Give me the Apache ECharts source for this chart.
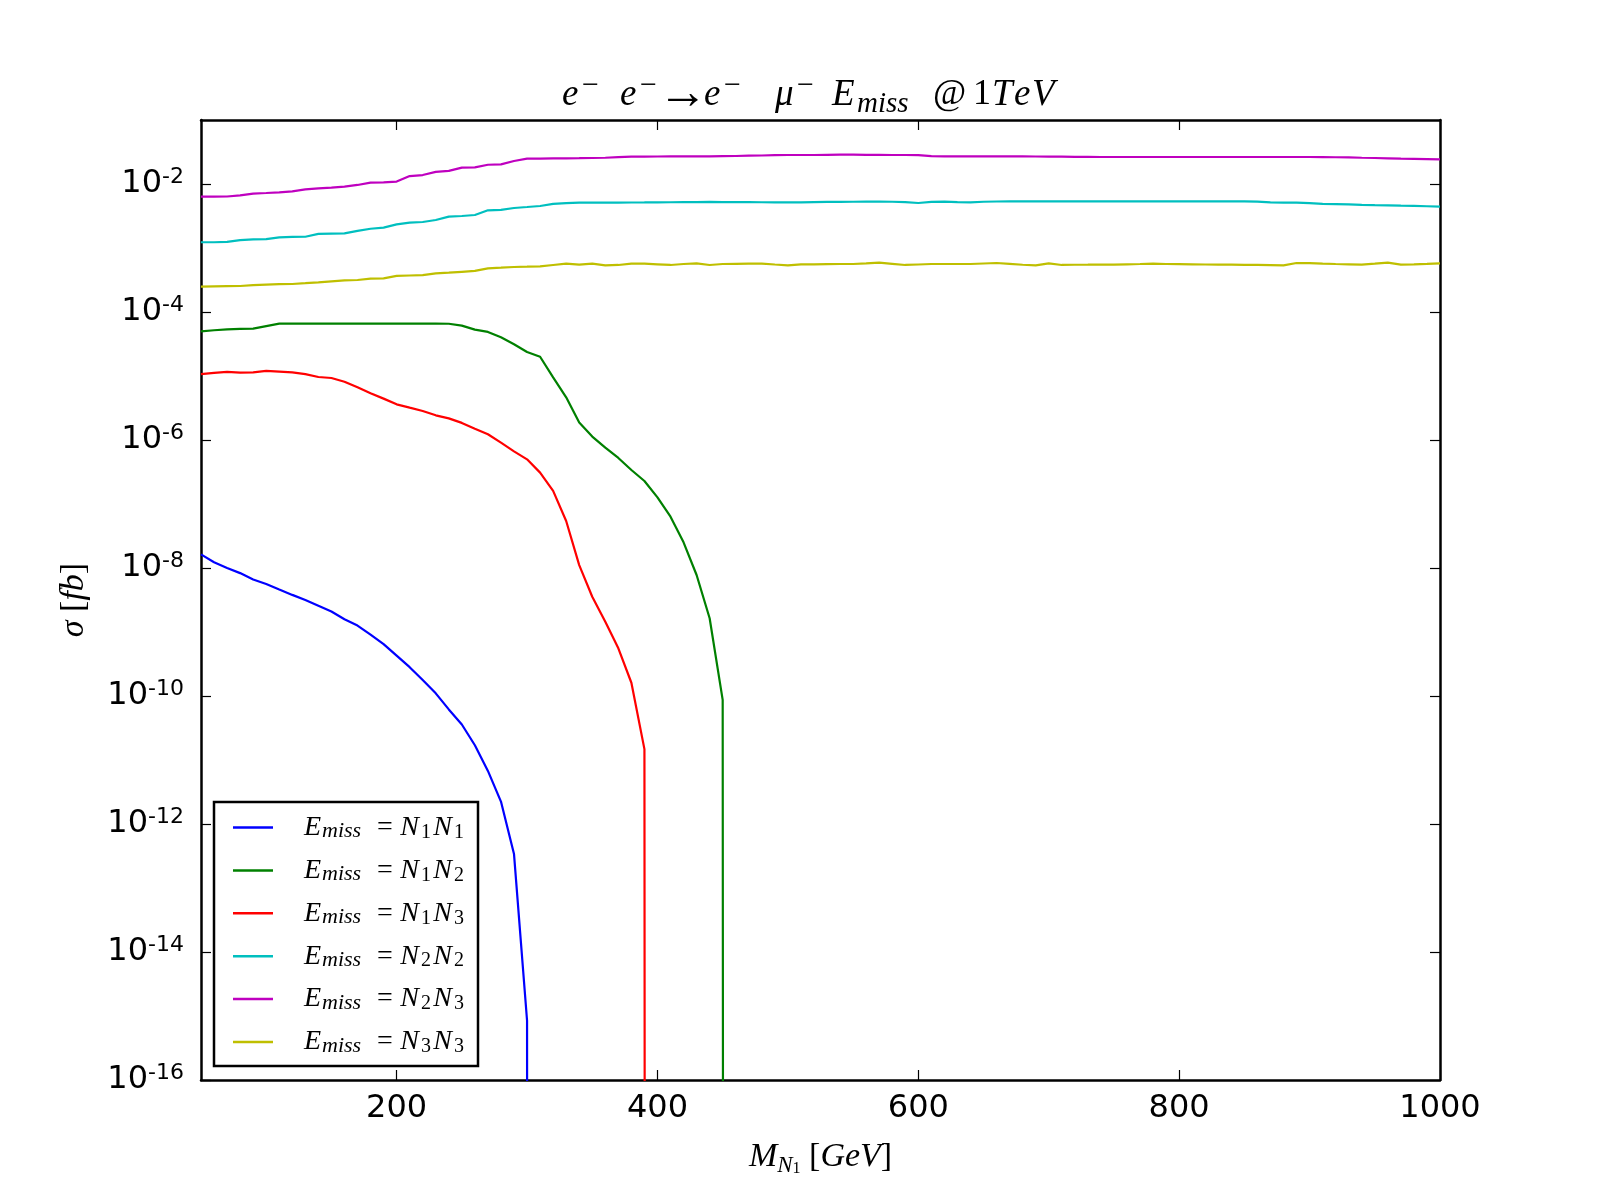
<!DOCTYPE html>
<html>
<head>
<meta charset="utf-8">
<script src="https://cdn.jsdelivr.net/npm/echarts@6/dist/echarts.min.js"></script>
<style>html,body{margin:0;padding:0;background:#fff}#c{width:1600px;height:1200px}</style>
</head>
<body>
<div id="c"></div>
<script>
// ---- data ----
const massGeV = [50,60,70,80,90,100,110,120,130,140,150,160,170,180,190,200,210,220,230,240,250,260,270,280,290,300,310,320,330,340,350,360,370,380,390,400,410,420,430,440,450,460,470,480,490,500,510,520,530,540,550,560,570,580,590,600,610,620,630,640,650,660,670,680,690,700,710,720,730,740,750,760,770,780,790,800,810,820,830,840,850,860,870,880,890,900,910,920,930,940,950,960,970,980,990,1000];
const xTicks = [200,400,600,800,1000];
const yTicks = [1e-16,1e-14,1e-12,1e-10,1e-8,1e-6,1e-4,1e-2];

// cross sections in fb; 1e-300 stands for the value that underflows (0 in the original)
const sigmaN1N1 = [1.63e-8,1.23e-8,1.00e-8,8.32e-9,6.61e-9,5.62e-9,4.62e-9,3.80e-9,3.16e-9,2.57e-9,
  2.09e-9,1.58e-9,1.26e-9,9.12e-10,6.46e-10,4.27e-10,2.82e-10,1.78e-10,1.10e-10,6.17e-11,
  3.59e-11,1.70e-11,6.76e-12,2.24e-12,3.39e-13,8.51e-16,1e-300];
const sigmaN1N2 = [4.99e-5,5.19e-5,5.36e-5,5.43e-5,5.50e-5,6.03e-5,6.58e-5,
  6.58e-5,6.58e-5,6.58e-5,6.58e-5,6.58e-5,6.58e-5,6.58e-5,6.58e-5,6.58e-5,6.58e-5,6.58e-5,6.58e-5,6.55e-5,
  6.12e-5,5.30e-5,4.88e-5,4.02e-5,3.13e-5,2.37e-5,2.00e-5,9.53e-6,4.65e-6,1.87e-6,
  1.13e-6,7.59e-7,5.24e-7,3.40e-7,2.29e-7,1.27e-7,6.34e-8,2.52e-8,7.78e-9,1.64e-9,
  8.71e-11,1e-300];
const sigmaN1N3 = [1.07e-5,1.12e-5,1.16e-5,1.13e-5,1.14e-5,1.20e-5,1.17e-5,1.14e-5,1.07e-5,9.64e-6,
  9.31e-6,8.15e-6,6.65e-6,5.36e-6,4.43e-6,3.61e-6,3.20e-6,2.84e-6,2.43e-6,2.18e-6,
  1.85e-6,1.50e-6,1.23e-6,9.08e-7,6.65e-7,4.99e-7,3.09e-7,1.60e-7,5.42e-8,1.11e-8,
  3.56e-9,1.45e-9,5.56e-10,1.61e-10,1.48e-11,1e-300];
const sigmaN2N2 = [1.23e-3,1.23e-3,1.25e-3,1.33e-3,1.36e-3,1.38e-3,1.47e-3,1.49e-3,1.50e-3,1.66e-3,
  1.68e-3,1.69e-3,1.85e-3,2.00e-3,2.08e-3,2.34e-3,2.49e-3,2.55e-3,2.74e-3,3.09e-3,
  3.16e-3,3.28e-3,3.88e-3,3.93e-3,4.22e-3,4.37e-3,4.53e-3,4.88e-3,5.01e-3,5.10e-3,
  5.12e-3,5.13e-3,5.13e-3,5.14e-3,5.15e-3,5.17e-3,5.19e-3,5.21e-3,5.22e-3,5.24e-3,
  5.22e-3,5.21e-3,5.20e-3,5.19e-3,5.18e-3,5.18e-3,5.15e-3,5.20e-3,5.25e-3,5.27e-3,
  5.28e-3,5.30e-3,5.30e-3,5.28e-3,5.20e-3,5.05e-3,5.25e-3,5.30e-3,5.22e-3,5.18e-3,
  5.28e-3,5.33e-3,5.36e-3,5.36e-3,5.36e-3,5.36e-3,5.36e-3,5.36e-3,5.36e-3,5.36e-3,
  5.36e-3,5.36e-3,5.36e-3,5.36e-3,5.36e-3,5.36e-3,5.36e-3,5.36e-3,5.36e-3,5.36e-3,
  5.36e-3,5.30e-3,5.18e-3,5.13e-3,5.11e-3,5.01e-3,
  4.88e-3,4.84e-3,4.79e-3,4.73e-3,4.68e-3,4.65e-3,4.59e-3,4.55e-3,4.49e-3,4.43e-3];
const sigmaN2N3 = [6.34e-3,6.34e-3,6.38e-3,6.65e-3,7.08e-3,7.24e-3,7.41e-3,7.69e-3,8.26e-3,8.57e-3,
  8.77e-3,9.10e-3,9.66e-3,1.05e-2,1.06e-2,1.09e-2,1.33e-2,1.38e-2,1.55e-2,1.60e-2,
  1.80e-2,1.82e-2,2.00e-2,2.03e-2,2.29e-2,2.49e-2,2.50e-2,2.51e-2,2.52e-2,2.53e-2,
  2.55e-2,2.57e-2,2.63e-2,2.67e-2,2.68e-2,2.69e-2,2.70e-2,2.70e-2,2.70e-2,2.70e-2,
  2.72e-2,2.74e-2,2.77e-2,2.79e-2,2.82e-2,2.84e-2,2.84e-2,2.84e-2,2.86e-2,2.87e-2,
  2.88e-2,2.86e-2,2.85e-2,2.84e-2,2.84e-2,2.83e-2,2.72e-2,2.71e-2,2.71e-2,2.71e-2,
  2.71e-2,2.71e-2,2.71e-2,2.70e-2,2.69e-2,2.68e-2,2.67e-2,2.66e-2,2.65e-2,2.64e-2,
  2.64e-2,2.64e-2,2.64e-2,2.64e-2,2.64e-2,2.64e-2,2.64e-2,2.64e-2,2.64e-2,2.64e-2,
  2.64e-2,2.64e-2,2.64e-2,2.64e-2,2.64e-2,2.64e-2,
  2.63e-2,2.62e-2,2.60e-2,2.57e-2,2.55e-2,2.52e-2,2.49e-2,2.47e-2,2.45e-2,2.43e-2];
const sigmaN3N3 = [2.49e-4,2.51e-4,2.53e-4,2.55e-4,2.63e-4,2.68e-4,2.72e-4,2.74e-4,2.82e-4,2.91e-4,
  3.02e-4,3.11e-4,3.16e-4,3.32e-4,3.36e-4,3.66e-4,3.72e-4,3.78e-4,4.02e-4,4.12e-4,
  4.25e-4,4.38e-4,4.81e-4,4.92e-4,5.05e-4,5.11e-4,5.18e-4,5.43e-4,5.69e-4,5.50e-4,
  5.69e-4,5.36e-4,5.43e-4,5.69e-4,5.69e-4,5.56e-4,5.43e-4,5.62e-4,5.75e-4,5.43e-4,
  5.62e-4,5.65e-4,5.68e-4,5.69e-4,5.52e-4,5.36e-4,5.56e-4,5.56e-4,5.60e-4,5.62e-4,
  5.62e-4,5.75e-4,5.90e-4,5.66e-4,5.43e-4,5.52e-4,5.62e-4,5.62e-4,5.62e-4,5.62e-4,
  5.73e-4,5.83e-4,5.65e-4,5.47e-4,5.36e-4,5.75e-4,5.43e-4,5.47e-4,5.48e-4,5.50e-4,
  5.50e-4,5.56e-4,5.62e-4,5.69e-4,5.62e-4,5.60e-4,5.56e-4,5.52e-4,5.50e-4,5.48e-4,
  5.45e-4,5.43e-4,5.40e-4,5.36e-4,5.83e-4,5.81e-4,5.70e-4,5.62e-4,5.56e-4,5.50e-4,
  5.69e-4,5.90e-4,5.50e-4,5.56e-4,5.65e-4,5.75e-4];

const seriesNames = ['N1N1','N1N2','N1N3','N2N2','N2N3','N3N3'];
const seriesValues = [sigmaN1N1,sigmaN1N2,sigmaN1N3,sigmaN2N2,sigmaN2N3,sigmaN3N3];
const seriesColors = ['#0000ff','#008000','#ff0000','#00bfbf','#bf00bf','#bfbf00'];

// ---- chart ----
const chart = echarts.init(document.getElementById('c'), null, {renderer:'canvas'});
const serif = 'Liberation Serif';
const sans = 'DejaVu Sans';

function pairs(vals){ const out=[]; for(let i=0;i<vals.length;i++) out.push([massGeV[i], vals[i]]); return out; }

const axisLineStyle = {show:true, onZero:false, lineStyle:{color:'#000', width:2.5}};
const xTickStyle = {show:true, inside:true, length:10, lineStyle:{color:'#000', width:1.2}, customValues:xTicks};
const yTickStyle = {show:true, inside:true, length:10, lineStyle:{color:'#000', width:1.2}, customValues:yTicks};

function supStyle(w){ return {fontFamily:serif, fontSize:30, lineHeight:28, verticalAlign:'top', width:w}; }
function itStyle(w){ const s = {fontFamily:serif, fontStyle:'italic', fontSize:37, lineHeight:48, verticalAlign:'middle'}; if (w) s.width = w; return s; }
function upStyle(w){ const s = {fontFamily:serif, fontSize:36, lineHeight:48, verticalAlign:'middle'}; if (w) s.width = w; return s; }

const option = {
  backgroundColor:'#fff',
  animation:false,
  title:{
    text:'{e|e}{s1|−}{e|e}{s2|−}{ar|→}{e|e}{s3|−}{mu|μ}{s4|−}{E|E}{sb|miss}{at|@}{one|1}{T|T}{te|e}{i|V}',
    left:557, top:66, textAlign:'left',
    textStyle:{
      fontFamily:serif, fontSize:36, fontWeight:'normal', color:'#000',
      rich:{
        e:itStyle(20), mu:itStyle(22), E:itStyle(25), T:itStyle(22), te:itStyle(18), i:itStyle(0),
        ar:{fontFamily:serif, fontSize:50, lineHeight:48, verticalAlign:'middle', width:46},
        at:upStyle(40), one:upStyle(19),
        s1:supStyle(38), s2:supStyle(18), s3:supStyle(51), s4:supStyle(35),
        sb:{fontFamily:serif, fontStyle:'italic', fontSize:29, lineHeight:33, verticalAlign:'bottom', width:76}
      }
    }
  },
  grid:{left:201, top:120, width:1239, height:960, containLabel:false, show:false},
  legend:{
    orient:'vertical', left:214, top:802,
    icon:'rect', itemWidth:40, itemHeight:2.5, itemGap:13.9,
    padding:[11.5,14,9,19],
    borderColor:'#000', borderWidth:2.5, backgroundColor:'#fff',
    formatter:function(name){
      return '{E|E}{ms|miss}{eq|=}{N|N}{d|'+name[1]+'}{N|N}{d|'+name[3]+'}';
    },
    textStyle:{
      padding:[0,0,0,26], color:'#000',
      rich:{
        E:{fontFamily:serif, fontStyle:'italic', fontSize:28, lineHeight:30, verticalAlign:'middle', width:18},
        ms:{fontFamily:serif, fontStyle:'italic', fontSize:22, lineHeight:16, verticalAlign:'bottom', width:50},
        eq:{fontFamily:serif, fontSize:28, lineHeight:30, verticalAlign:'middle', width:26, align:'center'},
        N:{fontFamily:serif, fontStyle:'italic', fontSize:28, lineHeight:30, verticalAlign:'middle', width:23},
        d:{fontFamily:serif, fontSize:20, lineHeight:16, verticalAlign:'bottom', width:10}
      }
    }
  },
  xAxis:[
    {type:'value', min:50, max:1000, position:'bottom',
     axisLine:axisLineStyle, axisTick:xTickStyle, minorTick:{show:false}, splitLine:{show:false},
     axisLabel:{customValues:xTicks, fontFamily:sans, fontSize:32, color:'#000', margin:13,
       formatter:function(v){ return String(v); }},
     name:'{i|M}{sb|N}{ss|1}{n| [}{i|GeV}{n|]}', nameLocation:'middle', nameGap:57,
     nameTextStyle:{color:'#000', rich:{
        i:{fontFamily:serif, fontStyle:'italic', fontSize:34, lineHeight:40, verticalAlign:'middle'},
        n:{fontFamily:serif, fontSize:34, lineHeight:40, verticalAlign:'middle'},
        sb:{fontFamily:serif, fontStyle:'italic', fontSize:23, lineHeight:30, verticalAlign:'bottom'},
        ss:{fontFamily:serif, fontSize:16, lineHeight:16, verticalAlign:'bottom'}
     }}
    },
    {type:'value', min:50, max:1000, position:'top',
     axisLine:axisLineStyle, axisTick:xTickStyle, axisLabel:{show:false}, splitLine:{show:false}}
  ],
  yAxis:[
    {type:'log', logBase:10, min:1e-16, max:1e-1, position:'left',
     axisLine:axisLineStyle, axisTick:yTickStyle, minorTick:{show:false}, splitLine:{show:false},
     axisLabel:{customValues:yTicks, margin:17, color:'#000',
       formatter:function(v){ return '{b|10}{s|-' + Math.round(-Math.log10(v)) + '}'; },
       rich:{
         b:{fontFamily:sans, fontSize:32, lineHeight:36, verticalAlign:'middle', color:'#000'},
         s:{fontFamily:sans, fontSize:22, lineHeight:22, verticalAlign:'top', color:'#000'}
       }},
     name:'{i|σ}{n| [}{i|fb}{n|]}', nameLocation:'middle', nameRotate:90, nameGap:107,
     nameTextStyle:{color:'#000', rich:{
        i:{fontFamily:serif, fontStyle:'italic', fontSize:34, lineHeight:40},
        n:{fontFamily:serif, fontSize:34, lineHeight:40}
     }}
    },
    {type:'log', logBase:10, min:1e-16, max:1e-1, position:'right',
     axisLine:axisLineStyle, axisTick:yTickStyle, axisLabel:{show:false}, splitLine:{show:false}}
  ],
  series: seriesNames.map(function(n, k){
    return {
      name:n, type:'line', xAxisIndex:0, yAxisIndex:0,
      data:pairs(seriesValues[k]), showSymbol:false, symbol:'none', clip:true,
      lineStyle:{color:seriesColors[k], width:2.2}, itemStyle:{color:seriesColors[k]},
      emphasis:{disabled:true}
    };
  })
};
chart.setOption(option);
</script>
</body>
</html>
